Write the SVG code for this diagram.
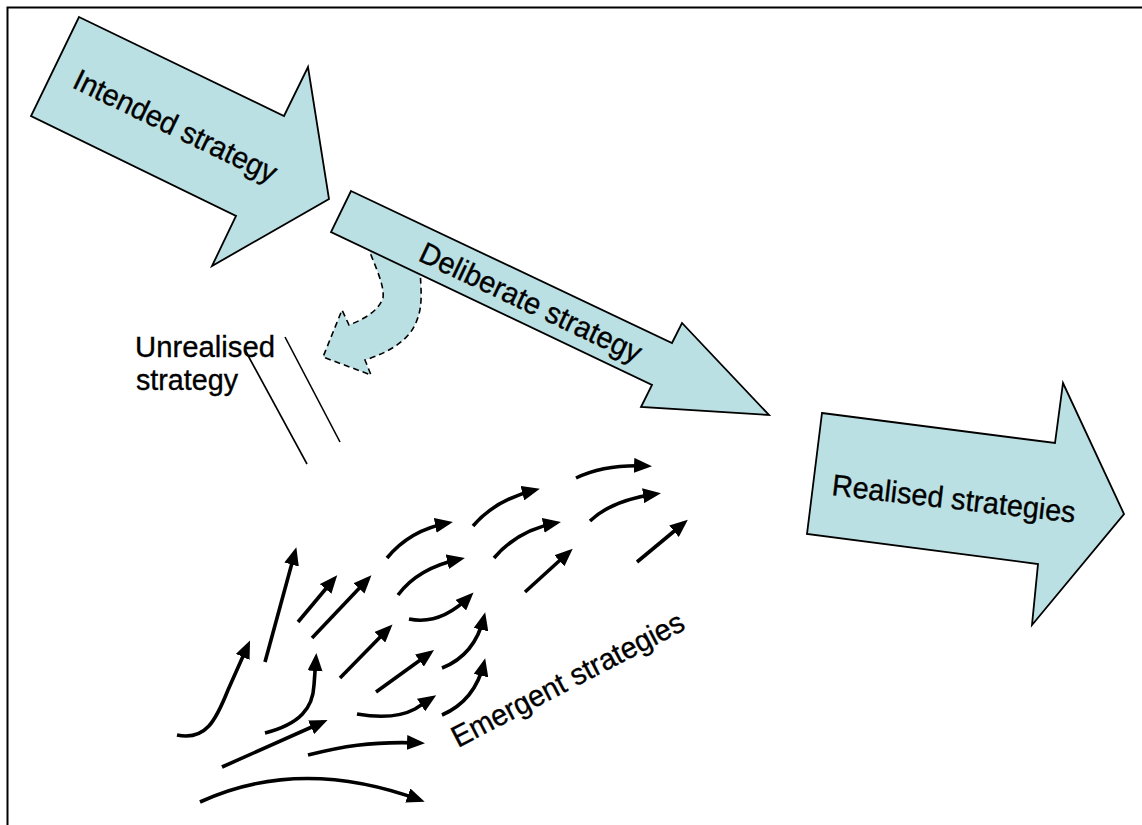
<svg xmlns="http://www.w3.org/2000/svg" width="1142" height="825" viewBox="0 0 1142 825">
  <style>
    .block { fill: #BAE0E3; stroke: #000; stroke-width: 1.8; stroke-linejoin: miter; }
    .bend { fill: #BAE0E3; stroke: #000; stroke-width: 1.6; stroke-dasharray: 6 4; }
    .label { font-family: "Liberation Sans", Arial, sans-serif; font-size: 30px; fill: #000; stroke: #000; stroke-width: 0.35; }
    .flow { fill: none; stroke: #000; stroke-width: 3.6; stroke-linecap: butt; marker-end: url(#head); }
    .rule { stroke: #000; stroke-width: 1.6; }
  </style>
  <defs>
    <marker id="head" markerUnits="userSpaceOnUse" markerWidth="18" markerHeight="15" refX="13" refY="7.5" orient="auto">
      <path d="M0,0 L18,7.5 L0,15 Z" fill="#000"/>
    </marker>
  </defs>

  <rect x="0" y="0" width="1142" height="825" fill="#fff"/>
  <!-- frame: only top and left edges fall inside the page -->
  <path d="M7.5,825 L7.5,7.5 L1142,7.5" fill="none" stroke="#000" stroke-width="2"/>

  <!-- bent dashed arrow peeling off the deliberate strategy -->
  <g id="unrealised-bend">
    <path class="bend" d="M367,245 L377,270 C381,281 384,290 383,298 C378,312 362,320 349,325 L342,310 L323,357 L371,375 L365,360 C390,352 410,340 417,320 C423,305 421,290 420,268 Z"/>
  </g>

  <g id="intended">
    <polygon class="block" points="79,17 284,116 308,67 329,199 212,266 236,216 31,116"/>
    <text class="label" transform="translate(71,87) rotate(25.8)" textLength="222" lengthAdjust="spacingAndGlyphs">Intended strategy</text>
  </g>

  <g id="deliberate">
    <polygon class="block" points="351,191 672,343 682,323 769,415 641,407 652,385 331,232"/>
    <text class="label" transform="translate(417,260) rotate(25.3)" textLength="242" lengthAdjust="spacingAndGlyphs">Deliberate strategy</text>
  </g>

  <g id="realised">
    <polygon class="block" points="822,413 1055,443 1063,383 1124,514 1032,625 1038,564 807,534"/>
    <text class="label" transform="translate(831,495) rotate(6.5)" textLength="245" lengthAdjust="spacingAndGlyphs">Realised strategies</text>
  </g>

  <g id="unrealised">
    <text class="label" x="135" y="357" textLength="140" lengthAdjust="spacingAndGlyphs">Unrealised</text>
    <text class="label" x="136" y="390" textLength="102" lengthAdjust="spacingAndGlyphs">strategy</text>
    <line class="rule" x1="245" y1="350" x2="307" y2="464"/>
    <line class="rule" x1="285" y1="337" x2="340" y2="442"/>
  </g>

  <g id="emergent">
    <text class="label" transform="translate(458,748) rotate(-27.5)" textLength="258" lengthAdjust="spacingAndGlyphs">Emergent strategies</text>
  </g>

  <!-- cluster of small emergent arrows -->
  <g id="connectors">
    <path class="flow" d="M177,735 C206,741 216,720 228,690 L248,645"/>
    <path class="flow" d="M265,662 L295,552"/>
    <path class="flow" d="M298,622 L334,579"/>
    <path class="flow" d="M312,638 L368,579"/>
    <path class="flow" d="M265,733 C300,724 313,708 314,685 L316,658"/>
    <path class="flow" d="M222,767 L323,722"/>
    <path class="flow" d="M308,755 C340,747 370,741 420,743"/>
    <path class="flow" d="M200,802 Q300,756 420,800"/>
    <path class="flow" d="M340,678 L389,628"/>
    <path class="flow" d="M376,692 L430,653"/>
    <path class="flow" d="M357,714 C380,718 400,717 415,709 L432,698"/>
    <path class="flow" d="M387,558 Q410,530 448,523"/>
    <path class="flow" d="M398,595 Q418,568 460,559"/>
    <path class="flow" d="M473,526 Q495,500 535,490"/>
    <path class="flow" d="M576,478 Q605,464 647,466"/>
    <path class="flow" d="M494,558 Q518,530 556,523"/>
    <path class="flow" d="M590,521 Q612,500 656,494"/>
    <path class="flow" d="M409,619 C428,623 448,618 470,596"/>
    <path class="flow" d="M525,592 L569,552"/>
    <path class="flow" d="M637,562 L684,523"/>
    <path class="flow" d="M442,668 C465,659 478,642 484,617"/>
    <path class="flow" d="M442,715 C465,705 478,688 484,663"/>
  </g>
</svg>
